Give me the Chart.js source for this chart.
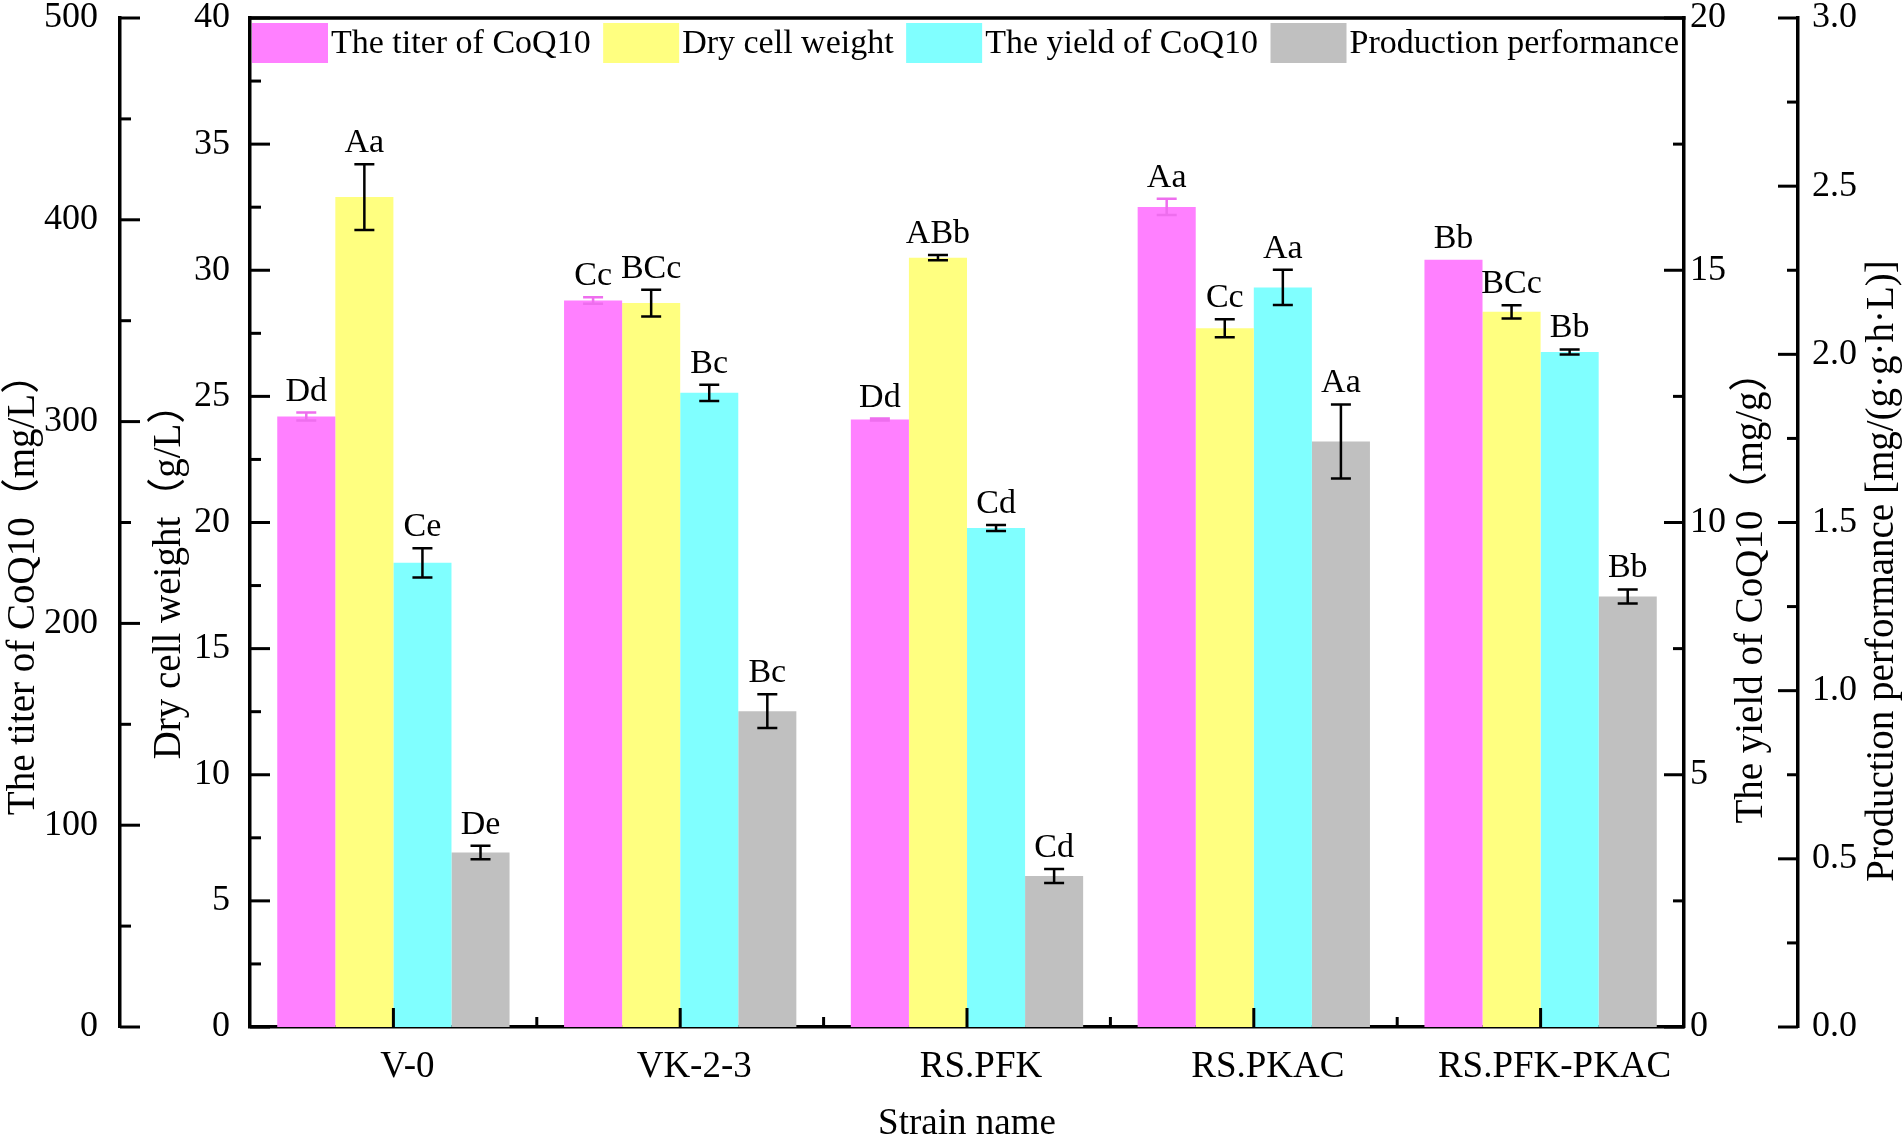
<!DOCTYPE html>
<html>
<head>
<meta charset="utf-8">
<title>CoQ10 production of engineered strains</title>
<script src="https://cdn.jsdelivr.net/npm/chart.js@4.4.1/dist/chart.umd.min.js"></script>
<style>
  html, body { margin: 0; padding: 0; background: #fff; }
  #wrap { width: 1902px; height: 1143px; position: relative; }
</style>
</head>
<body>
<div id="wrap"><canvas id="chart"></canvas></div>
<script>
// Strains (x axis)
var strains = ['V-0', 'VK-2-3', 'RS.PFK', 'RS.PKAC', 'RS.PFK-PKAC'];

// The titer of CoQ10 (mg/L) - outer left axis
var titer = [302.5, 360, 301, 406.4, 380.2];
var titerErr = [2, 1.6, 0.5, 4, 0];
var titerSig = ['Dd', 'Cc', 'Dd', 'Aa', 'Bb'];

// Dry cell weight (g/L) - inner left axis
var dcw = [32.9, 28.7, 30.5, 27.7, 28.35];
var dcwErr = [1.3, 0.53, 0.1, 0.36, 0.26];
var dcwSig = ['Aa', 'BCc', 'ABb', 'Cc', 'BCc'];

// The yield of CoQ10 (mg/g) - inner right axis
var yieldQ = [9.2, 12.57, 9.89, 14.66, 13.38];
var yieldErr = [0.29, 0.16, 0.06, 0.35, 0.05];
var yieldSig = ['Ce', 'Bc', 'Cd', 'Aa', 'Bb'];

// Production performance [mg/(g·g·h·L)] - outer right axis
var prod = [0.519, 0.939, 0.449, 1.741, 1.28];
var prodErr = [0.02, 0.05, 0.021, 0.11, 0.021];
var prodSig = ['De', 'Bc', 'Cd', 'Aa', 'Bb'];

var SERIF = '"Liberation Serif", "Times New Roman", "Noto Sans CJK SC", serif';

// fixes the size the layout gives each axis box
function boxWidth(w) {
    return function(scale) {
        scale.width = w;
        scale.paddingTop = 0;
        scale.paddingBottom = 0;
    };
}

function boxHeight(h) {
    return function(scale) {
        scale.height = h;
        scale.paddingLeft = 0;
        scale.paddingRight = 0;
    };
}

function yAxis(pos, weight, max, step, width, pad, decimals) {
    return {
        type: 'linear',
        position: pos,
        weight: weight,
        min: 0,
        max: max,
        grid: { display: false, drawTicks: false },
        border: { display: true, color: '#000', width: 3.5 },
        ticks: {
            stepSize: step,
            padding: pad,
            color: '#000',
            font: { family: SERIF, size: 36 },
            callback: function(v) { return v.toFixed(decimals); }
        },
        afterFit: boxWidth(width)
    };
}

// short tick marks, major + minor, drawn off the library scales
function yTicks(ctx, scale, step, x0, dir) {
    var n = Math.round((scale.max - scale.min) / (step / 2));
    for (var k = 0; k <= n; k++) {
        var y = scale.getPixelForValue(scale.min + k * step / 2);
        var len = (k % 2 === 0) ? 20 : 11;
        ctx.beginPath();
        ctx.moveTo(x0, y);
        ctx.lineTo(x0 + dir * len, y);
        ctx.stroke();
    }
}

function vTitle(ctx, text, x, yCenter) {
    ctx.save();
    ctx.translate(x, yCenter);
    ctx.rotate(-Math.PI / 2);
    ctx.textAlign = 'center';
    ctx.textBaseline = 'alphabetic';
    ctx.fillText(text, 0, 0);
    ctx.restore();
}

// one row of legend inside the frame, spread over its full width
function drawLegend(chart) {
    var ctx = chart.ctx;
    var area = chart.chartArea;
    var items = chart.data.datasets;
    var boxW = 76, boxH = 40, textGap = 3;
    ctx.save();
    ctx.font = '34px ' + SERIF;
    var widths = items.map(function(ds) { return ctx.measureText(ds.label).width; });
    var used = widths.reduce(function(a, b) { return a + b; }, 0) + items.length * (boxW + textGap);
    var left = area.left + 2;
    var right = area.right - 5;
    var gap = (right - left - used) / (items.length - 1);
    var top = area.top + 5;
    var x = left;
    ctx.textAlign = 'left';
    ctx.textBaseline = 'middle';
    items.forEach(function(ds, i) {
        ctx.fillStyle = ds.backgroundColor;
        ctx.fillRect(x, top, boxW, boxH);
        ctx.fillStyle = '#000';
        ctx.fillText(ds.label, x + boxW + textGap, top + boxH / 2 + 1);
        x += boxW + textGap + widths[i] + gap;
    });
    ctx.restore();
}

var decor = {
    id: 'decor',
    afterDatasetsDraw: function(chart) {
        var ctx = chart.ctx;
        ctx.save();
        chart.data.datasets.forEach(function(ds, di) {
            var meta = chart.getDatasetMeta(di);
            var scale = chart.scales[ds.yAxisID];
            meta.data.forEach(function(bar, i) {
                var v = ds.data[i];
                var e = ds.errors[i];
                var yTop = scale.getPixelForValue(v + e);
                var yBot = scale.getPixelForValue(v - e);
                if (e > 0) {
                    ctx.strokeStyle = ds.errColor;
                    ctx.lineWidth = 2.5;
                    ctx.beginPath();
                    ctx.moveTo(bar.x, yTop);
                    ctx.lineTo(bar.x, yBot);
                    ctx.moveTo(bar.x - 10, yTop);
                    ctx.lineTo(bar.x + 10, yTop);
                    ctx.moveTo(bar.x - 10, yBot);
                    ctx.lineTo(bar.x + 10, yBot);
                    ctx.stroke();
                }
                ctx.fillStyle = '#000';
                ctx.font = '34px ' + SERIF;
                ctx.textAlign = 'center';
                ctx.textBaseline = 'alphabetic';
                ctx.fillText(ds.letters[i], bar.x, yTop - 12);
            });
        });
        ctx.restore();
        drawLegend(chart);
    },
    afterDraw: function(chart) {
        var ctx = chart.ctx;
        var area = chart.chartArea;
        var s = chart.scales;
        ctx.save();
        ctx.strokeStyle = '#000';
        ctx.lineWidth = 3.5;

        // top frame line
        ctx.beginPath();
        ctx.moveTo(area.left - 1.5, area.top);
        ctx.lineTo(area.right + 1.5, area.top);
        ctx.stroke();

        ctx.lineWidth = 3;
        yTicks(ctx, s.yTiter, 100, s.yTiter.right, 1);
        yTicks(ctx, s.yDcw, 5, s.yDcw.right, 1);
        yTicks(ctx, s.yYield, 5, s.yYield.left, -1);
        yTicks(ctx, s.yProd, 0.5, s.yProd.left, -1);

        // x ticks: major at strains, minor between them
        var x = s.x;
        for (var i = 0; i < strains.length; i++) {
            var px = x.getPixelForValue(i);
            ctx.beginPath();
            ctx.moveTo(px, area.bottom);
            ctx.lineTo(px, area.bottom - 19);
            ctx.stroke();
            if (i < strains.length - 1) {
                var mid = (px + x.getPixelForValue(i + 1)) / 2;
                ctx.beginPath();
                ctx.moveTo(mid, area.bottom);
                ctx.lineTo(mid, area.bottom - 10);
                ctx.stroke();
            }
        }

        // axis titles, all reading bottom to top
        ctx.fillStyle = '#000';
        ctx.font = '39px ' + SERIF;
        vTitle(ctx, 'The titer of CoQ10（mg/L）', 34, 585);
        vTitle(ctx, 'Dry cell weight（g/L）', 180, 572);
        vTitle(ctx, 'The yield of CoQ10（mg/g）', 1762, 588);
        vTitle(ctx, 'Production performance [mg/(g·g·h·L)]', 1893, 571);
        ctx.restore();
    }
};

var ctx = document.getElementById('chart').getContext('2d');
var chart = new Chart(ctx, {
    type: 'bar',
    data: {
        labels: strains,
        datasets: [
            { label: 'The titer of CoQ10', data: titer, errors: titerErr, letters: titerSig,
              yAxisID: 'yTiter', backgroundColor: '#FF80FF', errColor: '#EE6EEE' },
            { label: 'Dry cell weight', data: dcw, errors: dcwErr, letters: dcwSig,
              yAxisID: 'yDcw', backgroundColor: '#FFFF80', errColor: '#000' },
            { label: 'The yield of CoQ10', data: yieldQ, errors: yieldErr, letters: yieldSig,
              yAxisID: 'yYield', backgroundColor: '#80FFFF', errColor: '#000' },
            { label: 'Production performance', data: prod, errors: prodErr, letters: prodSig,
              yAxisID: 'yProd', backgroundColor: '#C0C0C0', errColor: '#000' }
        ]
    },
    options: {
        responsive: true,
        maintainAspectRatio: false,
        animation: false,
        events: [],
        layout: { padding: { top: 18, left: 0, right: 0, bottom: 0 } },
        datasets: {
            bar: { barPercentage: 1.0, categoryPercentage: 0.81, borderWidth: 0 }
        },
        scales: {
            x: {
                type: 'category',
                offset: true,
                grid: { display: false, drawTicks: false },
                border: { display: true, color: '#000', width: 3.5 },
                ticks: {
                    padding: 18,
                    labelOffset: 14,
                    color: '#000',
                    font: { family: SERIF, size: 37 }
                },
                title: {
                    display: true,
                    text: 'Strain name',
                    color: '#000',
                    font: { family: SERIF, size: 37, lineHeight: 1 },
                    padding: { top: 0, bottom: 0 }
                },
                afterFit: boxHeight(116)
            },
            yTiter: yAxis('left', 10, 500, 100, 120, 22, 0),
            yDcw: yAxis('left', 0, 40, 5, 130, 20, 0),
            yYield: yAxis('right', 0, 20, 5, 114, 6, 0),
            yProd: yAxis('right', 10, 3, 0.5, 104, 14, 1)
        },
        plugins: {
            tooltip: { enabled: false },
            legend: { display: false }
        }
    },
    plugins: [decor]
});
</script>
</body>
</html>
